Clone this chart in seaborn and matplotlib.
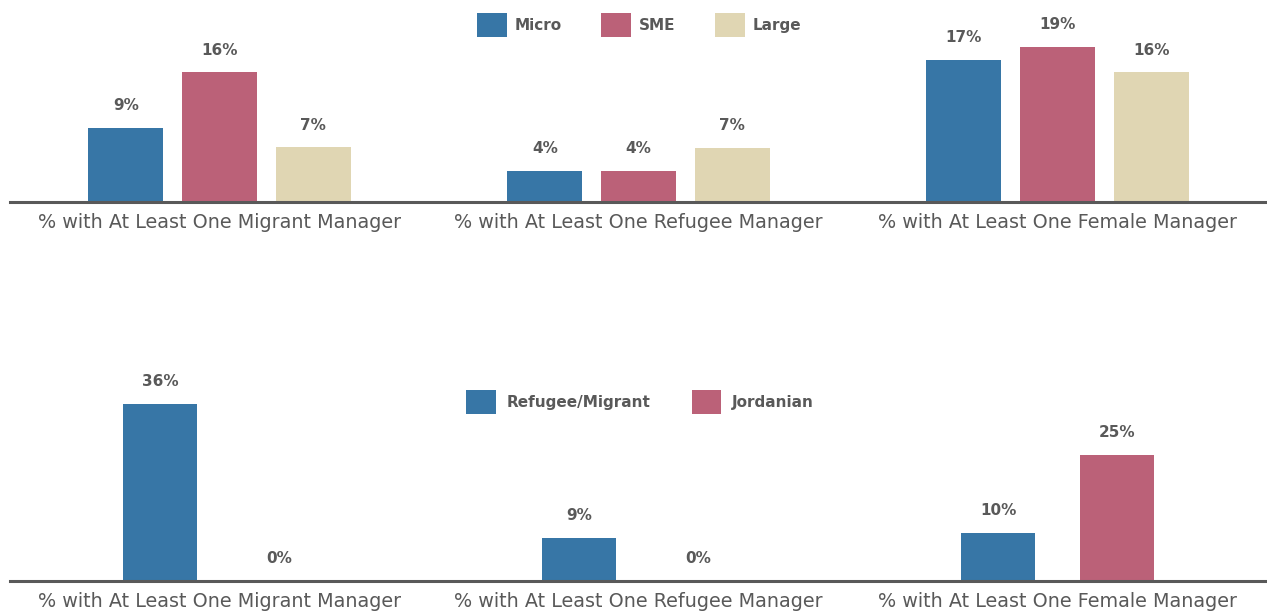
import pandas as pd
import matplotlib
matplotlib.use("Agg")
import matplotlib.pyplot as plt
import seaborn as sns

# data
categories = ["% with At Least One Migrant Manager",
              "% with At Least One Refugee Manager",
              "% with At Least One Female Manager"]

size_groups = ["Micro", "SME", "Large"]
micro_pct = [9.1, 3.8, 17.4]
sme_pct = [15.9, 3.8, 19.0]
large_pct = [6.7, 6.6, 15.9]

origin_groups = ["Refugee/Migrant", "Jordanian"]
refugee_migrant_pct = [35.7, 8.7, 9.7]
jordanian_pct = [0.0, 0.0, 25.4]

BLUE = "#3776a6"
PINK = "#bb6178"
BEIGE = "#e0d6b3"
GREY = "#595959"

df_size = pd.DataFrame({
    "category": categories * 3,
    "group": [g for g in size_groups for _ in categories],
    "pct": micro_pct + sme_pct + large_pct,
})
df_origin = pd.DataFrame({
    "category": categories * 2,
    "group": [g for g in origin_groups for _ in categories],
    "pct": refugee_migrant_pct + jordanian_pct,
})

sns.set_theme(style="white")
plt.rcParams["font.family"] = ["DejaVu Sans"]

W, H = 1267, 611
fig = plt.figure(figsize=(W / 100, H / 100), dpi=100)
ax_top = fig.add_axes([10 / W, (H - 201.7) / H, 1257 / W, 201.7 / H])
ax_bot = fig.add_axes([10 / W, (H - 580.7) / H, 1257 / W, 210.7 / H])

sns.barplot(data=df_size, x="category", y="pct", hue="group",
            hue_order=size_groups, palette=[BLUE, PINK, BEIGE],
            width=0.67, gap=0.2, saturation=1, linewidth=0, ax=ax_top)
sns.barplot(data=df_origin, x="category", y="pct", hue="group",
            hue_order=origin_groups, palette=[BLUE, PINK],
            width=0.568, gap=0.37, saturation=1, linewidth=0, ax=ax_bot)

ax_top.set_ylim(0, 201.7 / 8.14)
ax_bot.set_ylim(0, 210.7 / 4.96)

for ax in (ax_top, ax_bot):
    for c in ax.containers:
        ax.bar_label(c, labels=[f"{v:.0f}%" for v in c.datavalues],
                     padding=10.5, fontsize=11, fontweight="bold", color=GREY)
    sns.despine(ax=ax, left=True)
    ax.spines["bottom"].set_color(GREY)
    ax.spines["bottom"].set_linewidth(2.2)
    ax.set_yticks([])
    ax.set_xlabel("")
    ax.set_ylabel("")
    ax.tick_params(axis="x", length=0, pad=8, labelsize=13.8, labelcolor=GREY)

legend_opts = dict(frameon=False, title=None, fontsize=11,
                   handlelength=1.95, handleheight=1.95,
                   bbox_transform=fig.transFigure)
sns.move_legend(ax_top, "center", bbox_to_anchor=(639 / W, 1 - 25 / H),
                ncol=3, handletextpad=0.5, columnspacing=2.6, **legend_opts)
sns.move_legend(ax_bot, "center", bbox_to_anchor=(640 / W, 1 - 402 / H),
                ncol=2, handletextpad=0.7, columnspacing=2.7, **legend_opts)
for ax in (ax_top, ax_bot):
    for t in ax.get_legend().get_texts():
        t.set_fontweight("bold")
        t.set_color(GREY)

fig.savefig("out.png", dpi=100)
